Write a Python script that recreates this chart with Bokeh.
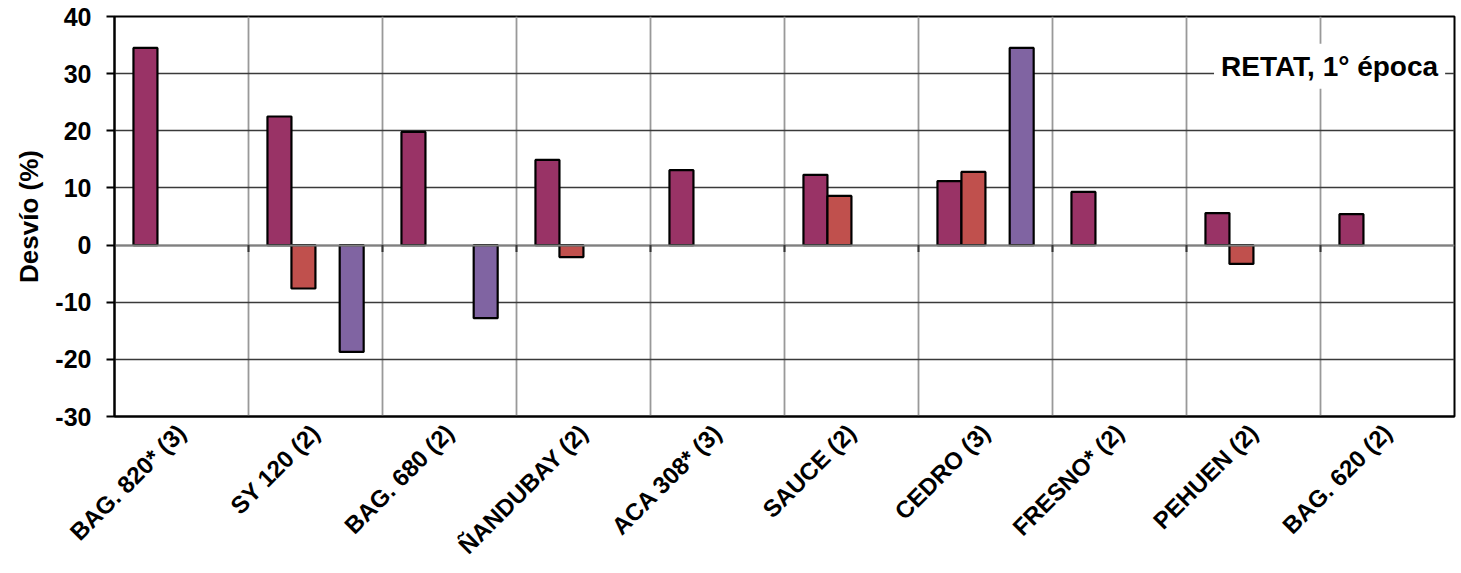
from bokeh.plotting import figure
from bokeh.models import ColumnDataSource, FactorRange, FixedTicker, Label, Range1d
from bokeh.transform import dodge
from bokeh.embed import file_html
from bokeh.resources import INLINE
import math

categories = ["BAG. 820* (3)", "SY 120 (2)", "BAG. 680 (2)", "ÑANDUBAY (2)", "ACA 308* (3)",
              "SAUCE (2)", "CEDRO (3)", "FRESNO* (2)", "PEHUEN (2)", "BAG. 620 (2)"]
serie_1 = [34.5, 22.5, 19.8, 14.9, 13.1, 12.3, 11.2, 9.3, 5.6, 5.4]
serie_2 = [float("nan"), -7.6, float("nan"), -2.1, float("nan"), 8.6, 12.8, float("nan"), -3.3, float("nan")]
serie_3 = [float("nan"), -18.7, -12.8, float("nan"), float("nan"), float("nan"), 34.5, float("nan"), float("nan"), float("nan")]
y_ticks = [-30, -20, -10, 0, 10, 20, 30, 40]
title_text = "RETAT, 1° época"

src = ColumnDataSource(dict(cat=categories, s1=serie_1, s2=serie_2, s3=serie_3))

FONT = "Liberation Sans"

p = figure(x_range=FactorRange(*categories, range_padding=0, factor_padding=0),
           y_range=Range1d(-30, 40),
           width=1459, height=572, output_backend="svg", toolbar_location=None,
           min_border_left=114, min_border_top=16, min_border_right=5, min_border_bottom=156)

bw = 0.179
p.vbar(x=dodge("cat", -0.269, range=p.x_range), top="s1", bottom=0, width=bw, source=src,
       fill_color="#993366", line_color="black", line_width=2.2)
p.vbar(x=dodge("cat", -0.090, range=p.x_range), top="s2", bottom=0, width=bw, source=src,
       fill_color="#C0504D", line_color="black", line_width=2.2)
p.vbar(x=dodge("cat", 0.270, range=p.x_range), top="s3", bottom=0, width=bw, source=src,
       fill_color="#8064A2", line_color="black", line_width=2.2)

# frame
p.outline_line_color = "black"
p.outline_line_width = 2
p.background_fill_color = "white"
p.border_fill_color = "white"

# grids
p.ygrid.ticker = FixedTicker(ticks=y_ticks)
p.ygrid.grid_line_color = "#3a3a3a"
p.ygrid.grid_line_width = 1.5
p.xgrid.ticker = FixedTicker(ticks=list(range(len(categories) + 1)))
p.xgrid.grid_line_color = "#999999"
p.xgrid.grid_line_width = 1.8
p.hspan(y=[0], line_color="#808080", line_width=2)

# small category tick marks on the zero line
bounds = list(range(1, len(categories)))
p.segment(x0=bounds, x1=bounds, y0=[0] * len(bounds), y1=[-1.2] * len(bounds),
          line_color="#333333", line_width=2)

# y axis
yax = p.yaxis[0]
yax.ticker = FixedTicker(ticks=y_ticks)
yax.major_label_overrides = {t: str(t) for t in y_ticks}
yax.axis_line_color = "black"
yax.axis_line_width = 2
yax.major_tick_line_color = "black"
yax.major_tick_line_width = 2
yax.major_tick_out = 8
yax.major_tick_in = 0
yax.minor_tick_line_color = None
yax.major_label_text_font = FONT
yax.major_label_text_font_style = "bold"
yax.major_label_text_font_size = "25px"
yax.major_label_text_color = "black"
yax.major_label_standoff = 15
yax.axis_label = "Desvío (%)"
yax.axis_label_text_font = FONT
yax.axis_label_text_font_style = "bold"
yax.axis_label_text_font_size = "26px"
yax.axis_label_text_color = "black"
yax.axis_label_standoff = 8

# x axis
xax = p.xaxis[0]
xax.axis_line_color = "black"
xax.axis_line_width = 2
xax.major_tick_line_color = None
xax.minor_tick_line_color = None
xax.major_label_orientation = math.pi / 4
xax.major_label_text_font = FONT
xax.major_label_text_font_style = "bold"
xax.major_label_text_font_size = "24px"
xax.major_label_text_color = "black"
xax.major_label_standoff = 6

title = Label(x=9.93, y=31.3, text=title_text, text_align="right", text_baseline="middle",
              text_font=FONT, text_font_style="bold", text_font_size="28px", text_color="black",
              background_fill_color="white", padding=7)
p.add_layout(title)

open("out.html", "w").write(file_html(p, INLINE))
